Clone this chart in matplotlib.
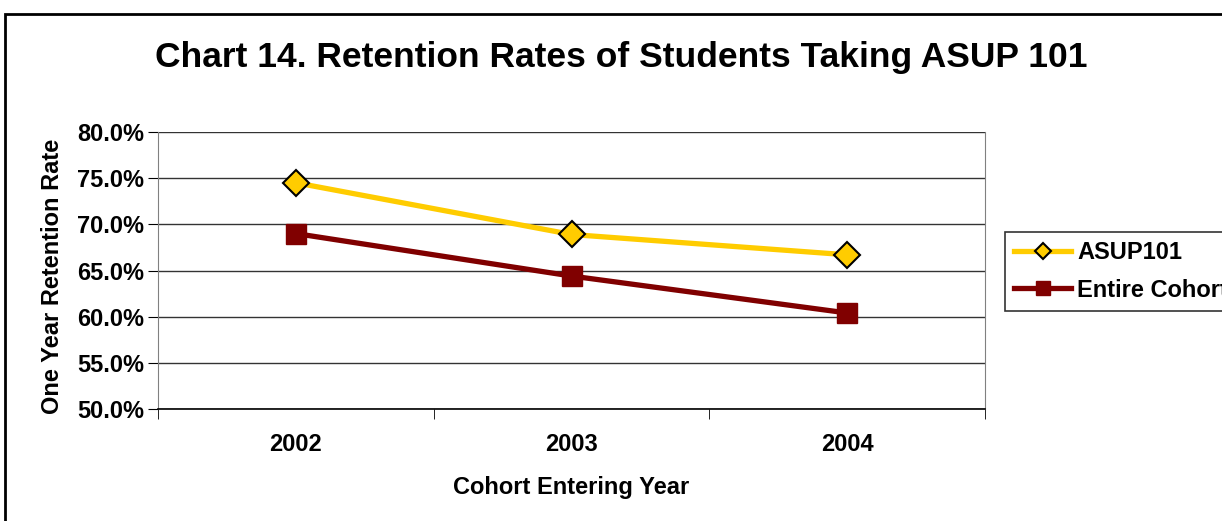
import matplotlib.pyplot as plt
from matplotlib.patches import Rectangle

years = ['2002', '2003', '2004']
asup101 = [74.5, 68.9, 66.7]
entire_cohort = [69.0, 64.4, 60.4]
yticks = [50, 55, 60, 65, 70, 75, 80]

plt.rcParams['font.family'] = 'Liberation Sans'
plt.rcParams['font.weight'] = 'bold'

fig = plt.figure(figsize=(12.22, 5.21), dpi=100)
ax = fig.add_axes([158 / 1222, 1 - 409 / 521, 827 / 1222, 277 / 521])

x = range(len(years))
ax.plot(x, asup101, color='#FFCC00', lw=3.8, marker='D', ms=13,
        mfc='#FFCC00', mec='black', mew=1.5, label='ASUP101', zorder=3)
ax.plot(x, entire_cohort, color='#800000', lw=3.8, marker='s', ms=15,
        mfc='#800000', mec='#800000', label='Entire Cohort', zorder=3)

ax.set_xlim(-0.5, 2.5)
ax.set_ylim(50, 80)
ax.set_yticks(yticks)
ax.set_yticklabels(['%.1f%%' % v for v in yticks])
ax.set_xticks(list(x))
ax.set_xticklabels(years)
ax.set_xticks([-0.5, 0.5, 1.5, 2.5], minor=True)
ax.tick_params(axis='x', which='major', length=0, pad=17, labelsize=17)
ax.tick_params(axis='x', which='minor', length=7, direction='out', color='black')
ax.tick_params(axis='y', length=7, direction='out', labelsize=17, pad=3)
ax.grid(axis='y', color='#333333', lw=1)
ax.set_axisbelow(True)
for s in ['right', 'left']:
    ax.spines[s].set_color('#808080')
ax.spines['top'].set_visible(False)
ax.spines['bottom'].set_color('black')
ax.spines['bottom'].set_linewidth(1.2)

ax.set_xlabel('Cohort Entering Year', fontsize=17, fontweight='bold')
ax.xaxis.set_label_coords(0.5, -0.242)
ax.set_ylabel('One Year Retention Rate', fontsize=17, fontweight='bold')
ax.yaxis.set_label_coords(-0.1137, 0.48)

fig.text(0.508, 1 - 58 / 521, 'Chart 14. Retention Rates of Students Taking ASUP 101',
         ha='center', va='center', fontsize=25.5, fontweight='bold')

leg = fig.legend(loc='upper left', bbox_to_anchor=(1005 / 1222, 1 - 232 / 521),
                 borderaxespad=0, frameon=True, fancybox=False, edgecolor='black',
                 fontsize=17, handlelength=2.4, handletextpad=0.25, borderpad=0.4,
                 labelspacing=0.6, markerscale=0.65)
leg.get_frame().set_linewidth(1.2)

# outer chart border
fig.patches.append(Rectangle((5 / 1222, -0.1), 1.2, 1 - 14 / 521 + 0.1,
                             transform=fig.transFigure, fill=False,
                             edgecolor='black', lw=2))

fig.savefig('out.png', dpi=100)
